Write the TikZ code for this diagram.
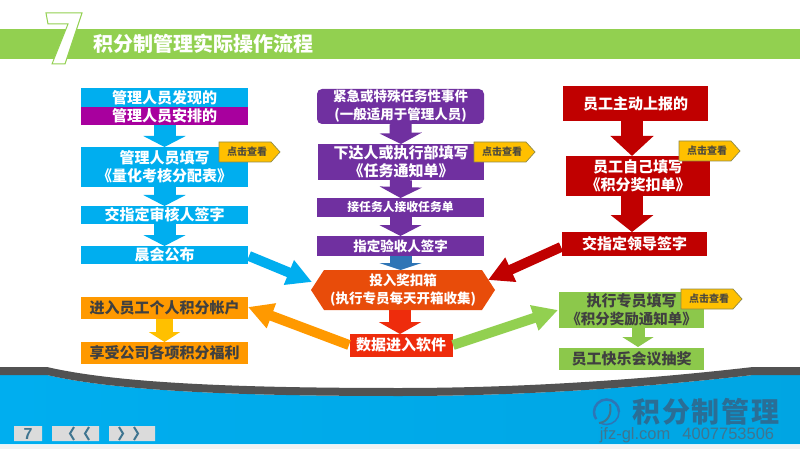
\documentclass[tikz,border=0pt]{standalone}
\usepackage{fontspec}
\usetikzlibrary{arrows.meta,calc}
\setmainfont{Liberation Sans}
\newfontfamily\cjk{Noto Sans CJK SC}
\newfontfamily\cjklogo[LetterSpace=7]{Noto Sans CJK SC}
\definecolor{cyanb}{HTML}{00AEEF}
\definecolor{magb}{HTML}{A8009E}
\definecolor{purb}{HTML}{7030A0}
\definecolor{redb}{HTML}{C00000}
\definecolor{orab}{HTML}{FF9900}
\definecolor{greb}{HTML}{92D050}
\definecolor{greb2}{HTML}{8CC84B}
\definecolor{hexb}{HTML}{E84C0A}
\definecolor{datb}{HTML}{EE2C0C}
\definecolor{darkt}{HTML}{404040}
\definecolor{tealt}{HTML}{3F7590}
\definecolor{logob}{HTML}{2A6E96}
\definecolor{steelb}{HTML}{2E75B6}
\definecolor{tagb}{HTML}{FFC000}
\tikzset{
  x=1pt,y=-1pt,
  fnt/.style={font={\cjk\bfseries\fontsize{#1}{18}\selectfont}},
  lbl/.style={inner sep=0pt,outer sep=0pt,align=center,text=white,fnt=15},
  box/.style={lbl,rectangle},
  dbox/.style={box,text=darkt},
  downarrow/.style n args={3}{-{Triangle[width=42pt,length=#2pt]},line width=#1pt,draw=#3},
  diagarrow/.style={-{Triangle[width=25pt,length=25pt]},line width=10pt,draw=#1},
  tagtext/.style={inner sep=0pt,text=black!80!yellow,fnt=10},
}
\newcommand{\clicktag}[3]{\begin{scope}[shift={(#1,#2)}]
  \draw[fill=tagb,draw=yellow!50!black,line width=.7pt] (0,0)--(52,0)--(61,10)--(52,20)--(0,20)--cycle;
  \node[tagtext] (#3) at (28,10) {点击查看};
\end{scope}}
\begin{document}
\begin{tikzpicture}
\useasboundingbox (0,0) rectangle (800,449);
\fill[white] (0,0) rectangle (800,449);
% header
\fill[greb] (0,29) rectangle (800,59);
\draw[fill=white,draw=greb,line width=1pt] (46,13)--(82,13)--(65,64)--(52,64)--(68,24)--(48,24)--cycle;
\node[anchor=west,inner sep=0pt,text=white,fnt=20] (title) at (93,44) {积分制管理实际操作流程};
% bottom
\fill[black!5] (0,444) rectangle (800,449);
\fill[white] (0,444) rectangle (800,445);
\shade[left color=cyanb,middle color=cyanb!85!black,right color=cyanb!95!black]
  (0,375)--(47,375) .. controls (120,392) and (250,396) .. (400,396)
  .. controls (520,396) and (640,388) .. (753,375)--(800,375)--(800,444)--(0,444)--cycle;
\fill[black!68] (0,367)--(47,367) .. controls (120,384) and (250,388) .. (400,388)
  .. controls (520,388) and (640,380) .. (753,367)--(800,367)--(800,375)--(753,375)
  .. controls (640,388) and (520,396) .. (400,396) .. controls (250,396) and (120,392) .. (47,375)--(0,375)--cycle;
% nav
\fill[black!14] (14,426) rectangle (42,441) (52,426) rectangle (99,441) (109,426) rectangle (155,441);
\node[inner sep=0pt,text=tealt,font={\bfseries\fontsize{16}{16}\selectfont}] (pagenum) at (28,433.5) {7};
\draw[tealt,line width=2pt] (74,427)--(70,433.5)--(74,440) (89,427)--(85,433.5)--(89,440)
  (119,427)--(123,433.5)--(119,440) (134,427)--(138,433.5)--(134,440);
% logo
\draw[line width=2.5pt,draw=steelb] (619,412) arc (0:-215:12.5);
\draw[line width=1.5pt,draw=steelb] (619,412) arc (0:120:12.5);
\draw[line width=2pt,draw=tealt] (610,404) .. controls (612,414) and (608,422) .. (599,423);
\node[inner sep=0pt,text=logob,font={\cjklogo\bfseries\fontsize{28}{28}\selectfont}] (logo) at (706,412) {积分制管理};
\node[inner sep=0pt,text=tealt,font={\fontsize{16.5}{16}\selectfont}] (logourl) at (687,435.5) {jfz-gl.com\hspace{12pt}4007753506};
% left column
\node[box,fill=cyanb,minimum width=167pt,minimum height=19pt] (a1) at (164.5,97.5) {管理人员发现的};
\node[box,fill=magb,minimum width=167pt,minimum height=18pt] (a2) at (164.5,116) {管理人员安排的};
\node[box,fill=cyanb,minimum width=167pt,minimum height=40pt] (a3) at (164.5,167) {管理人员填写\\《量化考核分配表》};
\node[box,fill=cyanb,minimum width=167pt,minimum height=18pt] (a4) at (164.5,215) {交指定审核人签字};
\node[box,fill=cyanb,minimum width=167pt,minimum height=18pt] (a5) at (164.5,255) {晨会公布};
\node[dbox,fill=orab,minimum width=167pt,minimum height=22pt] (a6) at (164.5,308) {进入员工个人积分帐户};
\node[dbox,fill=orab,minimum width=167pt,minimum height=22pt] (a7) at (164.5,353) {享受公司各项积分福利};
% middle column
\node[box,fill=purb,rounded corners=5pt,minimum width=167pt,minimum height=35pt,fnt=13.5] (b1) at (400.5,106.5) {紧急或特殊任务性事件\\(一般适用于管理人员)};
\node[box,fill=purb,minimum width=166pt,minimum height=36pt] (b2) at (401,162) {下达人或执行部填写\\《任务通知单》};
\node[box,fill=purb,minimum width=167pt,minimum height=19pt,fnt=11.8] (b3) at (400.5,207.5) {接任务人接收任务单};
\node[box,fill=purb,minimum width=167pt,minimum height=20pt,fnt=13.5] (b4) at (400.5,246) {指定验收人签字};
\fill[hexb] (311,290)--(324,270)--(482,270)--(495,290)--(482,310)--(324,310)--cycle;
\node[lbl,fnt=13.5,minimum width=184pt,minimum height=40pt] (b5) at (403,290) {投入奖扣箱\\(执行专员每天开箱收集)};
\node[box,fill=datb,draw=white,line width=.5pt,minimum width=104pt,minimum height=24pt] (b6) at (401,345) {数据进入软件};
% right column
\node[box,fill=redb,minimum width=145pt,minimum height=35pt] (c1) at (635.5,103.5) {员工主动上报的};
\node[box,fill=redb,minimum width=144pt,minimum height=40pt] (c2) at (638,176) {员工自己填写\\《积分奖扣单》};
\node[box,fill=redb,minimum width=145pt,minimum height=24pt] (c3) at (634.5,244) {交指定领导签字};
\node[dbox,fill=greb2,minimum width=145pt,minimum height=36pt] (d1) at (631.5,310) {执行专员填写\\\fontsize{14.5}{18}\selectfont《积分奖励通知单》};
\node[dbox,fill=greb2,minimum width=145pt,minimum height=22pt] (d2) at (631.5,359) {员工快乐会议抽奖};
% vertical block arrows
\draw[downarrow={22}{11}{cyanb}] (a2.south) -- (a3.north);
\draw[downarrow={22}{11}{cyanb}] (a3.south) -- (a4.north);
\draw[downarrow={22}{11}{cyanb}] (a4.south) -- (a5.north);
\draw[-{Triangle[width=31pt,length=10pt]},line width=17pt,draw=tagb] (a6.south) -- (a7.north);
\draw[downarrow={22}{11}{purb}] (b1.south) -- (b2.north);
\draw[downarrow={22}{11}{purb}] (b2.south) -- (b3.north);
\draw[downarrow={22}{11}{purb}] (b3.south) -- (b4.north);
\coordinate (b5top) at (400.5,270);
\coordinate (b4bot) at (400.5,256);
\draw[downarrow={22}{7}{steelb}] (b4bot) -- (b5top);
\coordinate (b5bot) at (400,310);
\coordinate (b6top) at (400,334);
\draw[downarrow={22}{12}{datb}] (b5bot) -- (b6top);
\coordinate (c1bot) at (632,121);
\coordinate (c2top) at (632,156);
\coordinate (c2bot) at (632,196);
\coordinate (c3top) at (632,232);
\draw[downarrow={22}{20}{redb}] (c1bot) -- (c2top);
\draw[downarrow={22}{17}{redb}] (c2bot) -- (c3top);
\coordinate (d1bot) at (638,328);
\coordinate (d2top) at (638,347);
\draw[-{Triangle[width=31pt,length=10pt]},line width=13pt,draw=greb2] (d1bot) -- (d2top);
% diagonal arrows
\coordinate (blS) at (249,256);
\coordinate (blE) at (312,282);
\draw[diagarrow=cyanb] (blS) -- (blE);
\coordinate (rdS) at (561,247);
\coordinate (rdE) at (488,280);
\draw[diagarrow=redb] (rdS) -- (rdE);
\coordinate (orS) at (349,345);
\coordinate (orE) at (248,307);
\draw[diagarrow=orab] (orS) -- (orE);
\coordinate (grS) at (453,345);
\coordinate (grE) at (558,310);
\draw[diagarrow=greb] (grS) -- (grE);
% tags
\clicktag{219}{142}{t1}
\clicktag{474}{142}{t2}
\clicktag{679}{141}{t3}
\clicktag{681}{289}{t4}
\end{tikzpicture}
\end{document}
